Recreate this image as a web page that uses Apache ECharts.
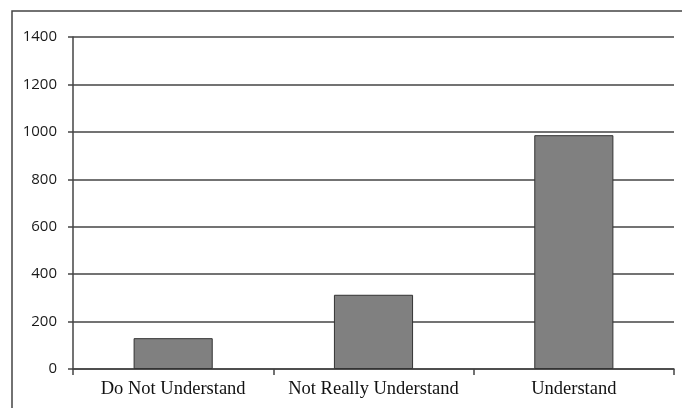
<!DOCTYPE html>
<html>
<head>
<meta charset="utf-8">
<style type="text/css">
	html, body{
		margin: 0;
		padding: 0;
		background: #fff;
	}
	#chart_box{
		width: 682px;
		height: 408px;
	}
</style>
<script type="text/javascript" src="https://cdn.jsdelivr.net/npm/echarts@6/dist/echarts.min.js"></script>
</head>
<body>
<div id="chart_box"></div>

<script type="text/javascript">
var categories = ['Do Not Understand', 'Not Really Understand', 'Understand'];
var counts = [130, 313, 986];
var y_ticks = [0, 200, 400, 600, 800, 1000, 1200, 1400];

var myChart = echarts.init(document.getElementById('chart_box'));

var option = {
	animation: false,
	backgroundColor: '#fff',
	graphic: [
		{
			// frame round the picture (top and left edges show)
			type: 'rect',
			shape: { x: 12, y: 11, width: 700, height: 420 },
			style: { fill: 'none', stroke: '#444', lineWidth: 1.5 },
			silent: true
		}
	],
	grid: {
		left: 73,
		right: 8,
		top: 37,
		bottom: 39
	},
	xAxis: {
		type: 'category',
		data: categories,
		axisLine: {
			lineStyle: { color: '#444', width: 1.5 }
		},
		axisTick: {
			show: true,
			interval: 0,
			length: 6,
			lineStyle: { color: '#444', width: 1.5 }
		},
		axisLabel: {
			interval: 0,
			hideOverlap: false,
			margin: 11,
			color: '#111',
			fontFamily: '"Liberation Serif", "DejaVu Serif", serif',
			fontSize: 18.5
		}
	},
	yAxis: {
		type: 'value',
		min: y_ticks[0],
		max: y_ticks[y_ticks.length - 1],
		interval: y_ticks[1] - y_ticks[0],
		axisLine: {
			show: true,
			lineStyle: { color: '#444', width: 1.5 }
		},
		axisTick: {
			show: true,
			length: 5,
			lineStyle: { color: '#444', width: 1.5 }
		},
		axisLabel: {
			margin: 16,
			color: '#1a1a1a',
			fontFamily: '"Open Sans", "Liberation Sans", sans-serif',
			fontSize: 15,
			formatter: function(v) { return String(v); }
		},
		splitLine: {
			lineStyle: { color: '#444', width: 1.5 }
		}
	},
	series: [
		{
			type: 'bar',
			data: counts,
			barWidth: '39.5%',
			itemStyle: {
				color: '#808080',
				borderColor: '#333',
				borderWidth: 1
			}
		}
	]
};
myChart.setOption(option);
</script>
</body>
</html>
